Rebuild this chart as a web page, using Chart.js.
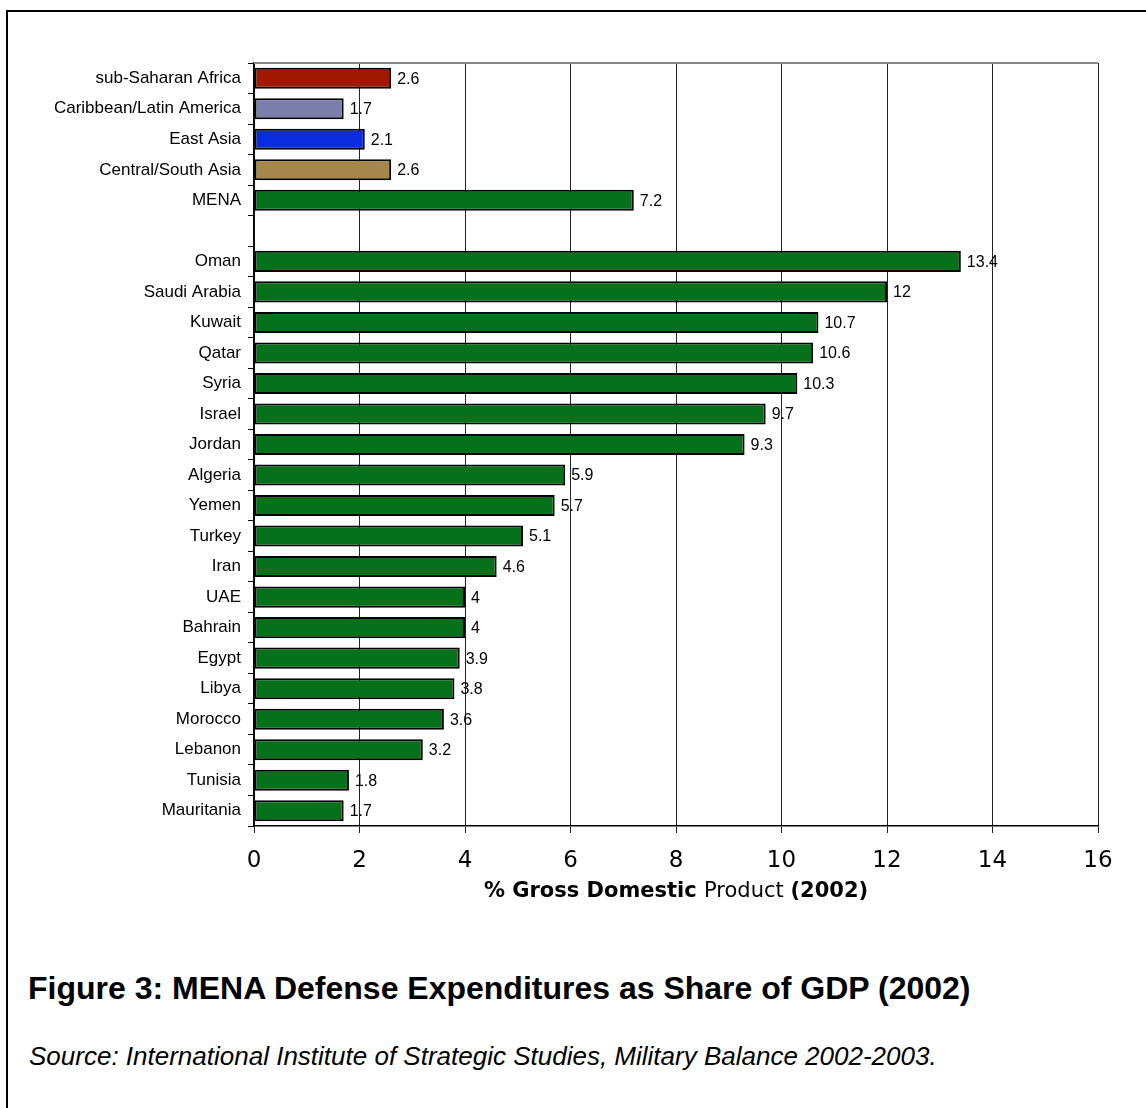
<!DOCTYPE html>
<html lang="en">
  <head>
    <meta charset="UTF-8" />
    <title>MENA Defense Expenditures as Share of GDP (2002)</title>
    <script src="https://cdn.jsdelivr.net/npm/chart.js"></script>
    <style>
      body {
        margin: 0;
        background: #fff;
        overflow: hidden;
        font-family: "Liberation Sans", Arial, sans-serif;
      }
      .frame {
        position: absolute;
        left: 6px;
        top: 10px;
        width: 1300px;
        height: 1300px;
        border-top: 2px solid #000;
        border-left: 2px solid #000;
      }
      #chart {
        position: absolute;
        left: 0;
        top: 0;
      }
      .caption {
        position: absolute;
        left: 28px;
        top: 970px;
        font-size: 32px;
        font-weight: bold;
        white-space: nowrap;
      }
      .source {
        position: absolute;
        left: 29px;
        top: 1041px;
        font-size: 26px;
        font-style: italic;
        white-space: nowrap;
      }
    </style>
  </head>
  <body>
    <div class="frame"></div>
    <canvas id="chart" width="1146" height="910"></canvas>
    <div class="caption">Figure 3: MENA Defense Expenditures as Share of GDP (2002)</div>
    <div class="source">Source: International Institute of Strategic Studies, Military Balance 2002-2003.</div>

    <script>
      const regions = [
        "sub-Saharan Africa",
        "Caribbean/Latin America",
        "East Asia",
        "Central/South Asia",
        "MENA",
        "",
        "Oman",
        "Saudi Arabia",
        "Kuwait",
        "Qatar",
        "Syria",
        "Israel",
        "Jordan",
        "Algeria",
        "Yemen",
        "Turkey",
        "Iran",
        "UAE",
        "Bahrain",
        "Egypt",
        "Libya",
        "Morocco",
        "Lebanon",
        "Tunisia",
        "Mauritania",
      ];
      const gdpShare = [
        2.6, 1.7, 2.1, 2.6, 7.2, null, 13.4, 12, 10.7, 10.6, 10.3, 9.7, 9.3,
        5.9, 5.7, 5.1, 4.6, 4, 4, 3.9, 3.8, 3.6, 3.2, 1.8, 1.7,
      ];
      const green = "#06701a";
      const barColors = [
        "#a11800",
        "#7b7dab",
        "#0a2ce0",
        "#a5874e",
        green,
        green,
      ].concat(Array(19).fill(green));
      const xTicks = [0, 2, 4, 6, 8, 10, 12, 14, 16];

      // values printed just right of every bar
      const valueLabels = {
        id: "valueLabels",
        afterDatasetsDraw(chart) {
          const ctx = chart.ctx;
          const meta = chart.getDatasetMeta(0);
          ctx.save();
          ctx.font = '16px "Liberation Sans", Arial, sans-serif';
          ctx.fillStyle = "#000";
          ctx.textBaseline = "middle";
          meta.data.forEach((bar, i) => {
            if (gdpShare[i] == null) return;
            ctx.fillText(String(gdpShare[i]), bar.x + 6, bar.y + 1);
          });
          ctx.restore();
        },
      };

      // grey top edge of the plot + the axis title with mixed weights
      const plotExtras = {
        id: "plotExtras",
        afterDraw(chart) {
          const ctx = chart.ctx;
          const a = chart.chartArea;
          ctx.save();
          ctx.strokeStyle = "#888";
          ctx.lineWidth = 2;
          ctx.beginPath();
          ctx.moveTo(a.left, a.top);
          ctx.lineTo(a.right, a.top);
          ctx.stroke();

          const parts = [
            ["bold", "% Gross Domestic "],
            ["normal", "Product "],
            ["bold", "(2002)"],
          ];
          const size = 21;
          let total = 0;
          parts.forEach((p) => {
            ctx.font = p[0] + " " + size + 'px "DejaVu Sans", Verdana, sans-serif';
            total += ctx.measureText(p[1]).width;
          });
          let x = (a.left + a.right) / 2 - total / 2;
          ctx.fillStyle = "#000";
          ctx.textBaseline = "middle";
          parts.forEach((p) => {
            ctx.font = p[0] + " " + size + 'px "DejaVu Sans", Verdana, sans-serif';
            ctx.fillText(p[1], x, 892);
            x += ctx.measureText(p[1]).width;
          });
          ctx.restore();
        },
      };

      const config = {
        type: "bar",
        data: {
          labels: regions,
          datasets: [
            {
              data: gdpShare,
              backgroundColor: barColors,
              borderColor: "#000",
              borderWidth: 2,
              borderSkipped: false,
              barPercentage: 0.69,
              categoryPercentage: 1,
            },
          ],
        },
        options: {
          indexAxis: "y",
          responsive: false,
          animation: false,
          layout: {
            padding: { left: 0, top: 63, right: 48, bottom: 0 },
          },
          plugins: {
            legend: { display: false },
            tooltip: { enabled: false },
          },
          scales: {
            x: {
              min: 0,
              max: 16,
              afterBuildTicks: (scale) => {
                scale.ticks = xTicks.map((v) => ({ value: v }));
              },
              afterFit: (scale) => {
                scale.height = 84;
              },
              grid: {
                color: "#222",
                lineWidth: 1,
                tickLength: 7,
              },
              border: { color: "#000", width: 1.5 },
              ticks: {
                color: "#000",
                padding: 14,
                font: { family: '"DejaVu Sans", Verdana, sans-serif', size: 23 },
              },
            },
            y: {
              afterFit: (scale) => {
                scale.width = 254;
              },
              grid: {
                drawOnChartArea: false,
                offset: true,
                color: "#000",
                tickLength: 6,
              },
              border: { color: "#000", width: 1.5 },
              ticks: {
                color: "#000",
                padding: 7,
                autoSkip: false,
                font: { family: '"Liberation Sans", Arial, sans-serif', size: 17 },
              },
            },
          },
        },
        plugins: [valueLabels, plotExtras],
      };

      new Chart(document.getElementById("chart"), config);
    </script>
  </body>
</html>
